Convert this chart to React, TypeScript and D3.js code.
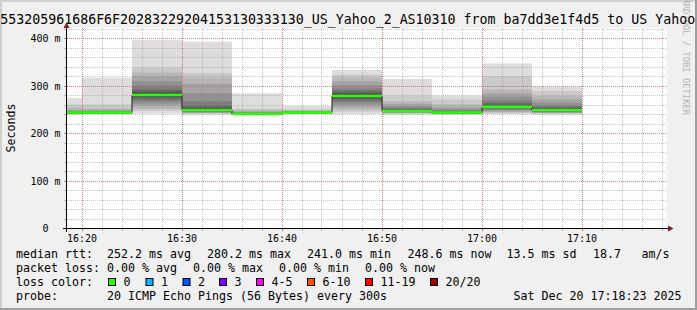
import React from "react";
import * as d3 from "d3";

const W = 697;
const H = 310;
const TITLE = "553205961686F6F20283229204153130333130_US_Yahoo_2_AS10310 from ba7dd3e1f4d5 to US Yahoo";
const WATERMARK = "RRDTOOL / TOBI OETIKER";
const Y_LABEL = "Seconds";

// end time of each 300s step (UTC, 2025-12-20)
const stepEnds = ["16:20", "16:25", "16:30", "16:35", "16:40", "16:45", "16:50", "16:55", "17:00", "17:05", "17:10"];
// median rtt in ms per step
const medians = [244, 244, 281, 249, 241, 244, 279, 247, 244, 256, 249];
// 20 sorted ping rtts in ms per step
const pings = [
  [240, 241, 242, 242, 243, 243, 243, 244, 244, 244, 244, 245, 245, 246, 247, 248, 250, 255, 261, 275],
  [241, 242, 242, 243, 243, 243, 244, 244, 244, 244, 245, 245, 245, 246, 247, 248, 250, 253, 261, 318],
  [242, 248, 252, 258, 263, 268, 272, 276, 279, 281, 282, 285, 289, 293, 301, 310, 321, 329, 339, 397],
  [240, 242, 243, 244, 245, 246, 247, 248, 248, 249, 250, 252, 255, 260, 268, 285, 305, 318, 328, 394],
  [239, 240, 240, 240, 241, 241, 241, 241, 241, 241, 242, 242, 243, 243, 244, 245, 247, 250, 253, 285],
  [242, 243, 243, 243, 244, 244, 244, 244, 244, 245, 245, 245, 245, 246, 246, 247, 248, 249, 251, 258],
  [241, 246, 251, 256, 261, 266, 270, 274, 277, 279, 280, 283, 286, 290, 295, 302, 310, 318, 324, 334],
  [240, 242, 243, 244, 245, 245, 246, 246, 247, 247, 248, 249, 250, 252, 255, 258, 263, 268, 280, 315],
  [240, 241, 242, 242, 243, 243, 243, 244, 244, 244, 245, 245, 246, 247, 249, 252, 256, 262, 272, 280],
  [241, 243, 245, 247, 249, 251, 253, 254, 255, 256, 257, 259, 261, 265, 270, 278, 285, 293, 321, 348],
  [240, 242, 243, 244, 245, 246, 247, 248, 248, 249, 250, 251, 253, 256, 260, 265, 272, 279, 290, 299],
];

const yTickValues = [0, 100, 200, 300, 400];
const yTickLabels = ["0  ", "100 m", "200 m", "300 m", "400 m"];

const medianLabel = "median rtt:";
const medianStats = ["252.2 ms avg", "280.2 ms max", "241.0 ms min", "248.6 ms now", "13.5 ms sd", "18.7", "am/s"];
const lossLabel = "packet loss:";
const lossStats = ["0.00 % avg", "0.00 % max", "0.00 % min", "0.00 % now"];
const colorLabel = "loss color:";
const lossLabels = ["0", "1", "2", "3", "4-5", "6-10", "11-19", "20/20"];
const lossColors = ["#26ff00", "#00b8ff", "#0059ff", "#7e00ff", "#ff00ff", "#ff5500", "#ff0000", "#a10000"];
const probeLabel = "probe:";
const probeText = "20 ICMP Echo Pings (56 Bytes) every 300s";
const dateText = "Sat Dec 20 17:18:23 2025";

const FONT = "DejaVu Sans Mono";

const parseT = (s: string) => {
  const [h, m] = s.split(":").map(Number);
  return new Date(Date.UTC(2025, 11, 20, h, m, 0));
};

export default function App() {
  const t0 = new Date(Date.UTC(2025, 11, 20, 16, 18, 30));
  const t1 = new Date(Date.UTC(2025, 11, 20, 17, 18, 30));
  const x = d3.scaleUtc().domain([t0, t1]).range([67, 667]);
  const y = d3.scaleLinear().domain([0, 421.6]).range([228.5, 28.5]);
  const px = (v: number) => Math.floor(v) + 0.5;
  const py = (v: number) => Math.round(v - 0.5) + 0.5;

  const minorX = x.ticks(d3.utcMinute.every(2) as any);
  const majorX = x.ticks(d3.utcMinute.every(10) as any);
  const minorY = y.ticks(20).filter((v) => v > 0);
  const majorY = yTickValues.filter((v) => v > 0);
  const fmt = d3.utcFormat("%H:%M");

  const steps = stepEnds.map((s, i) => {
    const end = parseT(s);
    const start = new Date(Math.max(+t0, +end - 300000));
    return { x0: x(start), x1: x(end), p: pings[i], med: medians[i] };
  });

  const layers = d3.range(1, 11);
  const grayOf = (k: number) => {
    const c = Math.floor((190 / 10) * (10 - k)) + 50;
    return d3.rgb(c, c, c).formatHex();
  };

  const medPath = steps.map((s, i) => `${i === 0 ? "M" : "L"}${s.x0},${y(s.med)}L${s.x1},${y(s.med)}`).join("");

  const statX1 = [107, 207, 307, 407.5, 506.5, 593, 641.5];
  const statX2 = [107, 193, 279, 365];
  const boxX = [108, 145.5, 182.5, 219, 256, 307, 365, 430];

  return (
    <svg width={W} height={H} style={{ position: "absolute", left: 0, top: 0, display: "block" }} fontFamily={FONT}>
      <rect x={0} y={0} width={W} height={H} fill="#f0f0f0" />
      <rect x={0} y={0} width={W} height={2} fill="#cfcfcf" />
      <rect x={0} y={0} width={2} height={H} fill="#cfcfcf" />
      <rect x={0} y={H - 2} width={W} height={2} fill="#9e9e9e" />
      <rect x={W - 2} y={0} width={2} height={H} fill="#9e9e9e" />
      <rect x={67} y={28} width={600} height={200} fill="#ffffff" />

      <text x={683} y={-1.5} transform="rotate(90 683 -1.5)" fontSize={8.8} fill="#b4b4b4">{WATERMARK}</text>
      <text x={0.3} y={24} fontSize={13.28} fill="#000">{TITLE}</text>

      {/* smoke */}
      {steps.map((s, i) => (
        <g key={i}>
          {layers.map((k) => (
            <rect key={k} x={s.x0} width={s.x1 - s.x0} y={y(s.p[20 - k])} height={y(s.p[k - 1]) - y(s.p[20 - k])} fill={grayOf(k)} />
          ))}
        </g>
      ))}

      {/* grid */}
      {minorX.map((d, i) => (
        <line key={"mx" + i} x1={px(x(d))} x2={px(x(d))} y1={28} y2={228} stroke="#8f8f8f" strokeOpacity={0.5} strokeDasharray="1,1" />
      ))}
      {minorY.map((v, i) => (
        <line key={"my" + i} x1={67} x2={667} y1={py(y(v))} y2={py(y(v))} stroke="#8f8f8f" strokeOpacity={0.5} strokeDasharray="1,1" />
      ))}
      {majorX.map((d, i) => (
        <line key={"Mx" + i} x1={px(x(d))} x2={px(x(d))} y1={28} y2={228} stroke="#de5050" strokeOpacity={0.6} strokeDasharray="1,1" />
      ))}
      {majorY.map((v, i) => (
        <line key={"My" + i} x1={67} x2={667} y1={py(y(v))} y2={py(y(v))} stroke="#de5050" strokeOpacity={0.6} strokeDasharray="1,1" />
      ))}

      {/* median */}
      <path d={medPath} fill="none" stroke="#202020" strokeWidth={1} />
      {steps.map((s, i) => (
        <rect key={"g" + i} x={s.x0} width={s.x1 - s.x0} y={y(s.med) - 1.5} height={2.5} fill={lossColors[0]} />
      ))}

      {/* axes ticks */}
      {minorX.map((d, i) => (
        <line key={"tx" + i} x1={px(x(d))} x2={px(x(d))} y1={228} y2={231} stroke="#8f8f8f" strokeOpacity={0.6} />
      ))}
      {majorX.map((d, i) => (
        <line key={"tX" + i} x1={px(x(d))} x2={px(x(d))} y1={228} y2={231} stroke="#de5050" strokeOpacity={0.7} />
      ))}
      {minorY.map((v, i) => (
        <line key={"ty" + i} x1={64} x2={67} y1={py(y(v))} y2={py(y(v))} stroke="#8f8f8f" strokeOpacity={0.6} />
      ))}
      {majorY.map((v, i) => (
        <line key={"tY" + i} x1={64} x2={67} y1={py(y(v))} y2={py(y(v))} stroke="#de5050" strokeOpacity={0.7} />
      ))}
      <line x1={63} x2={669} y1={228.5} y2={228.5} stroke="#000" />
      <line x1={66.5} x2={66.5} y1={232} y2={25} stroke="#000" />
      <path d="M668,225.5L673.5,228.5L668,231.5Z" fill="#7f1f1f" />
      <path d="M63.5,28L66.5,22.5L69.5,28Z" fill="#7f1f1f" />

      {/* axis labels */}
      {majorX.map((d, i) => (
        <text key={"lx" + i} x={x(d)} y={242} textAnchor="middle" fontSize={10} fill="#000">{fmt(d)}</text>
      ))}
      {yTickValues.map((v, i) => (
        <text key={"ly" + i} x={60.5} y={py(y(v)) + 3.5} textAnchor="end" fontSize={10} fill="#000" style={{ whiteSpace: "pre" }}>{yTickLabels[i]}</text>
      ))}
      <text transform="translate(15,128) rotate(-90)" textAnchor="middle" fontSize={11.6} fill="#000">{Y_LABEL}</text>

      {/* legend */}
      <g fontSize={11.63} fill="#000">
        <text x={16} y={258}>{medianLabel}</text>
        {medianStats.map((s, i) => <text key={"ms" + i} x={statX1[i]} y={258}>{s}</text>)}
        <text x={16} y={272}>{lossLabel}</text>
        {lossStats.map((s, i) => <text key={"ls" + i} x={statX2[i]} y={272}>{s}</text>)}
        <text x={16} y={286}>{colorLabel}</text>
        {lossLabels.map((s, i) => (
          <g key={"lc" + i}>
            <rect x={boxX[i] + 0.5} y={278.5} width={7} height={7} fill={lossColors[i]} stroke="#000" />
            <text x={boxX[i] + 15.5} y={286}>{s}</text>
          </g>
        ))}
        <text x={16} y={300}>{probeLabel}</text>
        <text x={107} y={300}>{probeText}</text>
        <text x={513.5} y={300}>{dateText}</text>
      </g>
    </svg>
  );
}
